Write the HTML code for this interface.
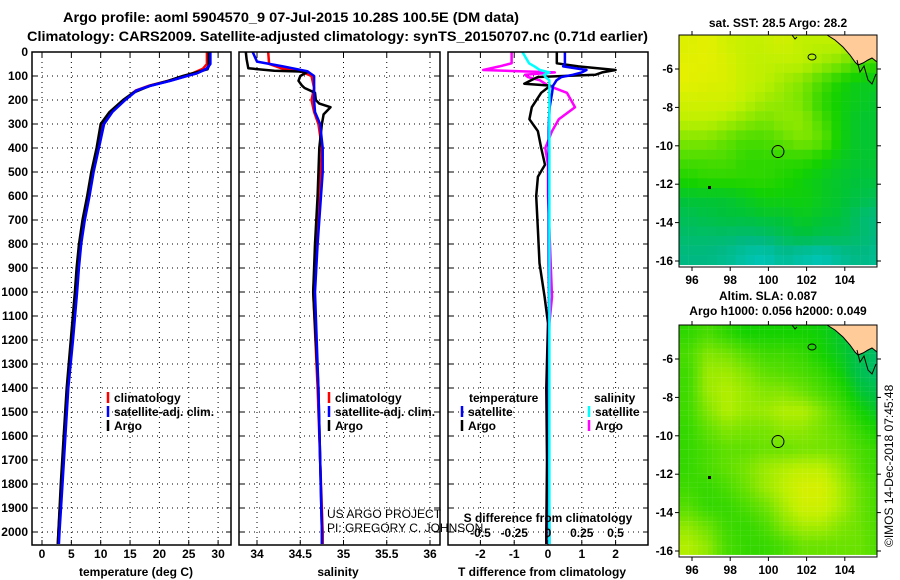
<!DOCTYPE html>
<html><head><meta charset="utf-8"><style>
body{margin:0;background:#fff;}
svg{display:block;font-family:"Liberation Sans",sans-serif;}
.b{font-weight:bold;font-size:12px;}
</style></head><body>
<svg id="s" width="900" height="580" xmlns="http://www.w3.org/2000/svg">
<text x="63" y="22" class="b" style="font-size:14px" textLength="456" lengthAdjust="spacingAndGlyphs">Argo profile: aoml 5904570_9 07-Jul-2015 10.28S 100.5E (DM data)</text>
<text x="27" y="41" class="b" style="font-size:14px" textLength="621" lengthAdjust="spacingAndGlyphs">Climatology: CARS2009. Satellite-adjusted climatology: synTS_20150707.nc (0.71d earlier)</text>
<g id="g"></g>
</svg>
<script>
// ---- data ----
const depthTicks=[0,100,200,300,400,500,600,700,800,900,1000,1100,1200,1300,1400,1500,1600,1700,1800,1900,2000];
const tempTicks=[0,5,10,15,20,25,30];
const salTicks=[34,34.5,35,35.5,36];
const salTickLabels=["34","34.5","35","35.5","36"];
const tdiffTicks=[-2,-1,0,1,2];
const sdiffTicks=[-0.5,-0.25,0,0.25,0.5];
const sdiffTickLabels=["-0.5","-0.25","0","0.25","0.5"];

const tArgoDepth=[0,60,72,80,100,120,140,150,170,200,250,300,400,500,600,700,800,900,1000,1200,1400,1600,1800,2000,2050];
const tArgo=[28.4,28.4,28.2,27,24,21.5,18.5,17.5,15.5,13.8,11.5,10,9.3,8.4,7.7,6.9,6.3,5.9,5.6,4.9,4.2,3.7,3.2,2.8,2.7];
const tClimDepth=[0,50,70,90,100,120,140,160,200,250,300,400,500,600,700,800,900,1000,1200,1400,1600,1800,2000,2050];
const tClim=[28.1,28.1,27.4,25.5,24.2,21.5,18.3,16,14,11.8,10.4,9.5,8.6,7.9,7.1,6.5,6.1,5.8,5.1,4.3,3.8,3.3,2.8,2.7];
const tSat=[28.6,28.6,28.0,26.2,24.6,21.8,18.5,16.1,14.1,11.9,10.5,9.6,8.7,8.0,7.2,6.6,6.2,5.9,5.2,4.4,3.9,3.4,2.9,2.8];

const sArgoDepth=[0,30,68,78,82,100,120,140,150,170,200,215,230,260,300,400,600,800,1000,1400,2000,2050];
const sArgo=[33.87,33.88,33.9,34.2,34.59,34.5,34.48,34.52,34.55,34.67,34.68,34.72,34.85,34.77,34.75,34.72,34.7,34.67,34.65,34.71,34.75,34.75];
const sClimDepth=[0,50,70,80,100,150,200,250,300,400,600,1000,1400,2000,2050];
const sClim=[34.13,34.14,34.3,34.5,34.63,34.66,34.63,34.66,34.71,34.75,34.72,34.65,34.7,34.76,34.76];
const sSatDepth=[0,40,60,80,100,200,250,300,400,500,800,1000,1400,2000,2050];
const sSat=[33.95,34.0,34.3,34.58,34.66,34.66,34.67,34.73,34.76,34.76,34.7,34.67,34.71,34.75,34.75];

const dDepth=[0,47,60,75,85,95,104,118,132,140,170,230,280,330,400,470,520,600,740,880,1020,1130,1400,1700,2000,2050];
const dTArgo=[0.26,0.26,0.9,2.0,1.6,1.4,-0.3,-0.5,-0.7,0.07,-0.2,-0.48,-0.55,-0.3,-0.2,-0.09,-0.3,-0.35,-0.3,-0.25,-0.1,0,-0.05,-0.03,-0.05,-0.05];
const dTSat=[0.5,0.5,0.45,1.14,1.0,0.73,0.4,0.25,0.19,0.15,0.12,0.05,0.03,0.02,0.02,0.02,0.02,0.02,0.02,0.02,0.03,0.03,0.03,0.03,0.04,0.04];
const dSArgo=[-0.27,-0.27,-0.36,-0.48,0.05,-0.17,-0.15,-0.06,-0.02,0.0,0.14,0.2,0.08,0.03,-0.02,0.0,0.0,0.0,0.01,0.02,0.03,0.01,0.0,0.0,-0.01,-0.01];
const dSSat=[-0.19,-0.14,-0.1,-0.06,0.01,-0.03,-0.02,0.01,0.01,0.01,0.01,0.01,0.01,0.01,0.01,0.01,0.01,0.01,0.01,0.01,0.01,0.01,0.01,0.01,0.01,0.01];

const lonTicks=[96,98,100,102,104];
const latTicks=[-6,-8,-10,-12,-14,-16];
const sstGrid=[
[.88,.9,.85,.82,.82,.85,.8,.8,.8,.75,.75],
[.9,.9,.87,.82,.8,.8,.8,.75,.7,.6,.55],
[.9,.88,.87,.82,.8,.75,.7,.6,.5,.45,.45],
[.85,.85,.85,.8,.75,.72,.68,.55,.48,.45,.42],
[.8,.8,.77,.72,.68,.72,.72,.6,.48,.42,.42],
[.7,.7,.65,.6,.6,.65,.7,.65,.48,.42,.42],
[.6,.6,.6,.55,.55,.55,.55,.5,.45,.42,.42],
[.52,.55,.55,.55,.55,.52,.48,.45,.42,.4,.4],
[.42,.42,.42,.45,.48,.48,.48,.45,.42,.38,.35],
[.35,.38,.4,.4,.42,.42,.45,.42,.4,.3,.25],
[.3,.3,.3,.28,.3,.35,.4,.36,.35,.3,.25],
[.25,.25,.22,.15,.12,.2,.15,.12,.2,.25,.2]];
const slaGrid=[
[.55,.6,.55,.5,.5,.5,.5,.48,.42,.38,.35],
[.6,.7,.68,.62,.58,.58,.56,.5,.44,.36,.3],
[.58,.74,.75,.7,.64,.62,.6,.56,.48,.36,.3],
[.58,.74,.78,.74,.7,.7,.66,.6,.54,.42,.36],
[.58,.7,.78,.74,.74,.78,.78,.7,.6,.5,.42],
[.56,.64,.7,.68,.68,.72,.72,.68,.64,.56,.5],
[.56,.6,.64,.64,.66,.66,.68,.68,.66,.6,.56],
[.56,.6,.64,.68,.74,.78,.8,.8,.72,.62,.56],
[.58,.56,.6,.66,.74,.8,.86,.86,.76,.66,.58],
[.62,.56,.56,.6,.66,.76,.84,.84,.76,.66,.58],
[.72,.66,.58,.56,.6,.7,.76,.76,.7,.66,.6],
[.78,.72,.6,.56,.56,.6,.66,.66,.66,.66,.6]];

// ---- drawing ----
const NS="http://www.w3.org/2000/svg";
const G=document.getElementById('g');
function mk(tag,attrs,parent){const e=document.createElementNS(NS,tag);for(const k in attrs)e.setAttribute(k,attrs[k]);(parent||G).appendChild(e);return e;}
function txt(x,y,s,attrs){const e=mk('text',Object.assign({x:x,y:y,class:'b'},attrs||{}));e.textContent=s;return e;}
const TOP=52,BOT=545;
const yD=d=>TOP+d*0.24;
const panels=[
 {l:32,r:231,name:'temperature-panel',fx:v=>42+v*5.87},
 {l:239,r:440,name:'salinity-panel',fx:v=>257+(v-34)*86.5},
 {l:448,r:648,name:'difference-panel',fx:v=>548+v*33.8}];
const fS=v=>548+v*135;

depthTicks.forEach(d=>{
 const t=txt(28,yD(d)+4,String(d),{'text-anchor':'end'});
 
 
});
function grid(p,xs){
 depthTicks.forEach(d=>{if(d>0){const l=mk('line',{x1:p.l,x2:p.r,y1:yD(d),y2:yD(d),stroke:'#000','stroke-dasharray':'1,4'});
  
  mk('line',{x1:p.l,x2:p.l+5,y1:yD(d),y2:yD(d),stroke:'#000'});mk('line',{x1:p.r-5,x2:p.r,y1:yD(d),y2:yD(d),stroke:'#000'});}});
 xs.forEach(x=>{const l=mk('line',{x1:x,x2:x,y1:TOP,y2:BOT,stroke:'#000','stroke-dasharray':'1,4'});
  
  mk('line',{x1:x,x2:x,y1:TOP,y2:TOP+5,stroke:'#000'});mk('line',{x1:x,x2:x,y1:BOT-5,y2:BOT,stroke:'#000'});});
}
function line(xs,ds,fx,color,name){
 const pts=xs.map((v,i)=>fx(v).toFixed(1)+','+yD(ds[i]).toFixed(1)).join(' ');
 const e=mk('polyline',{points:pts,fill:'none',stroke:color,'stroke-width':2.5,'stroke-linejoin':'round'});
 
 
}
// panel 1
let p=panels[0];
grid(p,tempTicks.map(p.fx));
line(tClim,tClimDepth,p.fx,'#f00','temperature-climatology-line');
line(tSat,tClimDepth,p.fx,'#00f','temperature-satellite-line');
line(tArgo,tArgoDepth,p.fx,'#000','temperature-argo-line');
line(tSat,tClimDepth,v=>p.fx(v)+0.5,'#00f','temperature-satellite-line-top');
tempTicks.forEach(v=>{const t=txt(p.fx(v),558,String(v),{'text-anchor':'middle'});});
{const t=txt(136,576,'temperature (deg C)',{'text-anchor':'middle'});}
// panel 2
p=panels[1];
grid(p,salTicks.map(p.fx));
line(sClim,sClimDepth,p.fx,'#f00','salinity-climatology-line');
line(sArgo,sArgoDepth,p.fx,'#000','salinity-argo-line');
line(sSat,sSatDepth,p.fx,'#00f','salinity-satellite-line');
salTicks.forEach((v,i)=>{const t=txt(p.fx(v),558,salTickLabels[i],{'text-anchor':'middle'});});
{const t=txt(338,576,'salinity',{'text-anchor':'middle'});}
// panel 3
p=panels[2];
grid(p,tdiffTicks.map(p.fx));
line(dSArgo,dDepth,fS,'#f0f','salinity-diff-argo-line');
line(dTArgo,dDepth,p.fx,'#000','temperature-diff-argo-line');
line(dTSat,dDepth,p.fx,'#00f','temperature-diff-satellite-line');
line(dSSat,dDepth,fS,'#0ff','salinity-diff-satellite-line');
tdiffTicks.forEach(v=>{const t=txt(p.fx(v),558,String(v),{'text-anchor':'middle'});});
sdiffTicks.forEach((v,i)=>{const t=txt(fS(v),537,sdiffTickLabels[i],{'text-anchor':'middle'});});
{const t=txt(548,522,'S difference from climatology',{'text-anchor':'middle'});}
{const t=txt(542,576,'T difference from climatology',{'text-anchor':'middle'});}
// frames
panels.forEach(q=>{const r=mk('rect',{x:q.l,y:TOP,width:q.r-q.l,height:BOT-TOP,fill:'none',stroke:'#000','stroke-width':1.5});
 });
// legends
function leg(x,y,c,s,name){mk('line',{x1:x,x2:x,y1:y-10,y2:y+1,stroke:c,'stroke-width':2.5});
 const t=txt(x+6,y,s);}
leg(108,402,'#f00','climatology','legend-climatology');
leg(108,416,'#00f','satellite-adj. clim.','legend-satellite-adj');
leg(108,430,'#000','Argo','legend-argo');
leg(329,402,'#f00','climatology','legend-climatology-2');
leg(329,416,'#00f','satellite-adj. clim.','legend-satellite-adj-2');
leg(329,430,'#000','Argo','legend-argo-2');
{const t=txt(469,402,'temperature');}
{const t=txt(594,402,'salinity');}
leg(462,416,'#00f','satellite','legend-t-satellite');
leg(462,430,'#000','Argo','legend-t-argo');
leg(589,416,'#0ff','satellite','legend-s-satellite');
leg(589,430,'#f0f','Argo','legend-s-argo');
{const t=txt(327,518,'US ARGO PROJECT',{class:'',style:'font-size:12px'});}
{const t=txt(327,532,'PI: GREGORY C. JOHNSON',{class:'',style:'font-size:12px'});}

// ---- maps ----
const lonX=l=>692+(l-96)*19.1;
const stops=[[0,[0,205,225]],[0.25,[0,185,130]],[0.4,[0,195,60]],[0.5,[20,210,0]],[0.65,[100,225,0]],[0.8,[190,240,0]],[0.92,[235,240,0]],[1,[250,215,0]]];
function cmap(v){v=Math.max(0,Math.min(1,v));for(let i=1;i<stops.length;i++){if(v<=stops[i][0]){const a=stops[i-1],b=stops[i],t=(v-a[0])/(b[0]-a[0]);
 return 'rgb('+a[1].map((c,k)=>Math.round(c+(b[1][k]-c)*t)).join(',')+')';}}return 'rgb(250,215,0)';}
function sample(gv,r,c){
 const R=gv.length-1,C=gv[0].length-1;
 r=Math.max(0,Math.min(R,r));c=Math.max(0,Math.min(C,c));
 const r0=Math.floor(r),c0=Math.floor(c),r1=Math.min(R,r0+1),c1=Math.min(C,c0+1),fr=r-r0,fc=c-c0;
 return gv[r0][c0]*(1-fr)*(1-fc)+gv[r0][c1]*(1-fr)*fc+gv[r1][c0]*fr*(1-fc)+gv[r1][c1]*fr*fc;
}
function map(oy,gridv,name,titles,sub){
 const latY=la=>oy+69+(-6-la)*19.2;
 const L=679,R=877,T=oy+35,B=oy+267;
 const cid='clip'+oy;
 const cp=mk('clipPath',{id:cid});mk('rect',{x:L,y:T,width:R-L,height:B-T},cp);
 const g=mk('g',{'clip-path':'url(#'+cid+')'});
 
 
 const st=1/sub;
 for(let r=0;r<gridv.length;r+=st){for(let c=0;c<gridv[0].length;c+=st){
  const v=sample(gridv,r-0.5+st/2,c-0.5+st/2);
  const lo=95.3+c,la=-4.2-r;
  const cell=mk('rect',{x:lonX(lo).toFixed(1),y:latY(la).toFixed(1),width:(19.6*st).toFixed(2),height:(19.7*st).toFixed(2),fill:cmap(v)},g);
  
  
 }}
 const land=[[827,35],[835,40],[843,47],[850,55],[855,62],[858,65],[863,63],[868,60],[872,58],[877,62],[877,35]];
 mk('polygon',{points:land.map(q=>q[0]+','+(q[1]+oy)).join(' '),fill:'#ffcc99',stroke:'#000','stroke-width':1},g);
 mk('polyline',{points:`792,${oy+35} 795,${oy+39} 797,${oy+37}`,fill:'none',stroke:'#000'},g);
 mk('ellipse',{cx:812,cy:oy+57,rx:4,ry:3,fill:'none',stroke:'#000'},g);
 mk('polyline',{points:`857,${oy+60} 860,${oy+72} 864,${oy+66} 868,${oy+80} 872,${oy+84} 876,${oy+74}`,fill:'none',stroke:'#000'},g);
 mk('rect',{x:708,y:oy+186,width:3,height:3,fill:'#000'},g);
 const c=mk('circle',{cx:lonX(100.5),cy:latY(-10.3),r:6,fill:'none',stroke:'#000','stroke-width':1});
 
 const fr=mk('rect',{x:L,y:T,width:R-L,height:B-T,fill:'none',stroke:'#000','stroke-width':1});
 
 lonTicks.forEach(l=>{mk('line',{x1:lonX(l),x2:lonX(l),y1:T-4,y2:T,stroke:'#000'});mk('line',{x1:lonX(l),x2:lonX(l),y1:B,y2:B+4,stroke:'#000'});
  const t=txt(lonX(l),B+17,String(l),{'text-anchor':'middle'});});
 latTicks.forEach(la=>{mk('line',{x1:L-4,x2:L,y1:latY(la),y2:latY(la),stroke:'#000'});mk('line',{x1:R,x2:R+4,y1:latY(la),y2:latY(la),stroke:'#000'});
  const t=txt(L-6,latY(la)+4,String(la),{'text-anchor':'end'});});
 titles.forEach((s,i)=>{const t=txt(titles.length==1?778:(i==0?768:778),oy+(titles.length==1?27:10+i*15),s,{'text-anchor':'middle'});
  });
}
map(0,sstGrid,'sst-map',['sat. SST: 28.5 Argo: 28.2'],2);
map(290,slaGrid,'sla-map',['Altim. SLA: 0.087','Argo h1000: 0.056 h2000: 0.049'],4);
{const t=txt(0,0,'©IMOS 14-Dec-2018 07:45:48',{class:'',style:'font-size:12px',transform:'translate(893,547) rotate(-90)'});
 }
</script>
</body></html>
